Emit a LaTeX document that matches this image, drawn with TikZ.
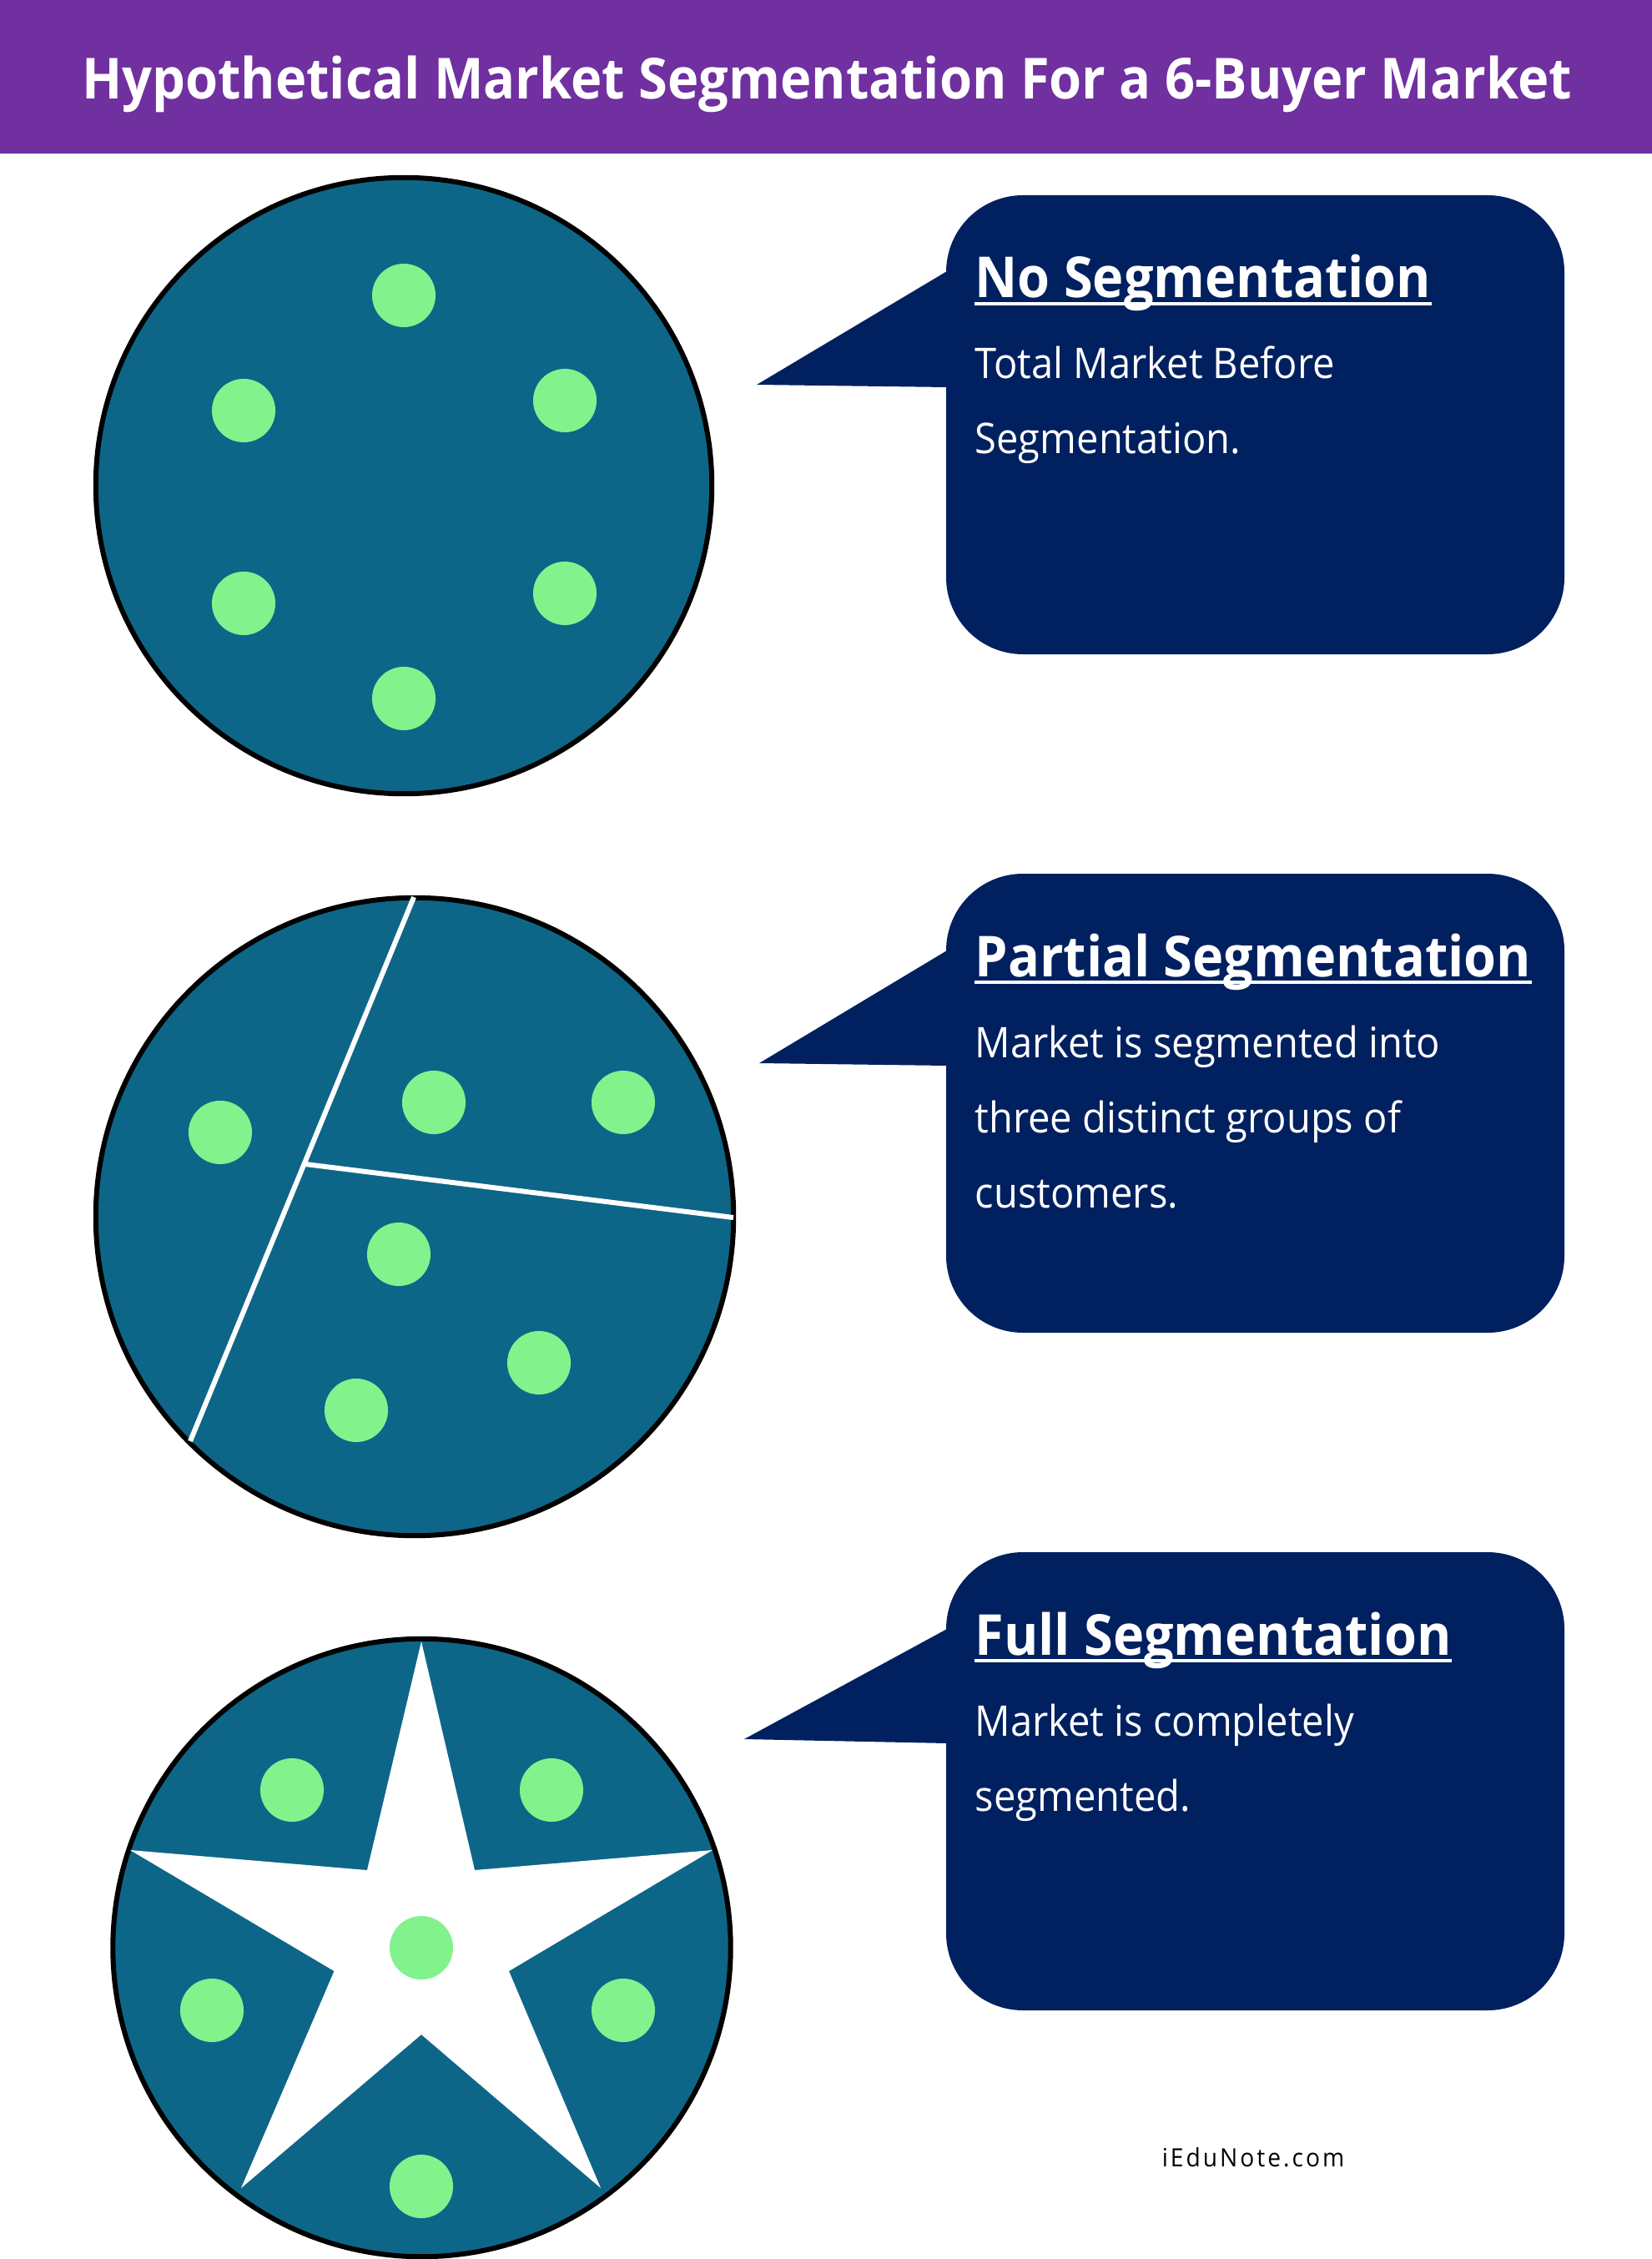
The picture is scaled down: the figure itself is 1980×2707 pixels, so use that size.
\documentclass[tikz,border=0pt]{standalone}
\usepackage{fontspec}
\setmainfont[FakeStretch=0.93]{Open Sans}
\usepackage{tikz}

\definecolor{bannerpurple}{HTML}{7030A0}
\definecolor{marketteal}{HTML}{0D6687}
\definecolor{buyergreen}{HTML}{82F28D}
\definecolor{bubblenavy}{HTML}{00205F}

\tikzset{
	market/.style={circle, minimum size=#1, inner sep=0pt, draw=black, line width=0.06cm, fill=marketteal},
	buyer/.style={circle, minimum size=0.76cm, inner sep=0pt, fill=buyergreen},
	cut/.style={draw=white, line width=0.06cm},
	bubble/.style={fill=bubblenavy},
	heading/.style={anchor=base west, inner sep=0pt, text=white, font=\fontsize{19.25}{22}\selectfont\bfseries},
	body/.style={anchor=base west, inner sep=0pt, text=white, font=\fontsize{14.4}{17}\selectfont},
	headrule/.style={draw=white, line width=0.04cm}
}

\begin{document}
\begin{tikzpicture}[x=0.01cm,y=-0.01cm]
		\useasboundingbox (0,0) rectangle (1980,2707);
		\fill[bannerpurple] (0,0) rectangle (1980,184);
		\node (title) [text=white, inner sep=0pt, anchor=base, font=\fontsize{19.3}{22}\selectfont\bfseries] at (991,119) {Hypothetical Market Segmentation For a 6-Buyer Market};

		% first circle
		\node (total) [market=7.38cm] at (484,582) {};
		\node (t1) [buyer] at (484,354) {};
		\node (t2) [buyer] at (292,492) {};
		\node (t3) [buyer] at (677,480) {};
		\node (t4) [buyer] at (292,723) {};
		\node (t5) [buyer] at (677,711) {};
		\node (t6) [buyer] at (484,837) {};

		\fill[bubble, rounded corners=0.92cm] (1134,234) rectangle (1875,784);
		\fill[bubble] (1135,325) -- (907,461) -- (1135,464) -- cycle;
		\node (noHead) [heading] at (1168,357) {No Segmentation};
		\draw[headrule] ([yshift=-2.1pt]noHead.base west) -- ([yshift=-2.1pt]noHead.base east);
		\node (noA) [body] at (1168,454) {Total Market Before};
		\node (noB) [body] at (1168,544) {Segmentation.};

		% second circle
		\node (partial) [market=7.64cm] at (497,1458) {};
		\coordinate (cutA) at (496,1075);
		\coordinate (cutB) at (228,1727);
		\coordinate (cutC) at (366,1395);
		\coordinate (cutD) at (879,1459);
		\draw[cut] (cutA) -- (cutB);
		\draw[cut] (cutC) -- (cutD);
		\node (p1) [buyer] at (264,1357) {};
		\node (p2) [buyer] at (520,1321) {};
		\node (p3) [buyer] at (747,1321) {};
		\node (p4) [buyer] at (478,1503) {};
		\node (p5) [buyer] at (646,1633) {};
		\node (p6) [buyer] at (427,1690) {};

		\fill[bubble, rounded corners=0.92cm] (1134,1047) rectangle (1875,1597);
		\fill[bubble] (1135,1139) -- (910,1274) -- (1135,1277) -- cycle;
		\node (partHead) [heading] at (1168,1170) {Partial Segmentation};
		\draw[headrule] ([yshift=-2.1pt]partHead.base west) -- ([yshift=-2.1pt]partHead.base east);
		\node (partA) [body] at (1168,1267) {Market is segmented into};
		\node (partB) [body] at (1168,1357) {three distinct groups of};
		\node (partC) [body] at (1168,1447) {customers.};

		% third circle
		\node (full) [market=7.40cm] at (505.5,2334) {};
		\fill[white] (505,1967) -- (569,2241) -- (854,2217) -- (610,2362) -- (720,2622) -- (505,2438) -- (289,2622) -- (400.5,2362) -- (156,2217) -- (440,2241) -- cycle;
		\node (f1) [buyer] at (350,2145) {};
		\node (f2) [buyer] at (661,2145) {};
		\node (f3) [buyer] at (254,2409) {};
		\node (f4) [buyer] at (747,2409) {};
		\node (f5) [buyer] at (505,2334) {};
		\node (f6) [buyer] at (505,2620) {};

		\fill[bubble, rounded corners=0.92cm] (1134,1860) rectangle (1875,2409);
		\fill[bubble] (1135,1952) -- (892,2084) -- (1135,2089) -- cycle;
		\node (fullHead) [heading] at (1168,1983) {Full Segmentation};
		\draw[headrule] ([yshift=-2.1pt]fullHead.base west) -- ([yshift=-2.1pt]fullHead.base east);
		\node (fullA) [body] at (1168,2080) {Market is completely};
		\node (fullB) [body] at (1168,2170) {segmented.};

		\node (site) [anchor=base, inner sep=0pt, text=black, font=\fontsize{8.6}{10}\selectfont] at (1502,2596) {\addfontfeature{LetterSpace=10}iEduNote.com};
	\end{tikzpicture}
\end{document}
